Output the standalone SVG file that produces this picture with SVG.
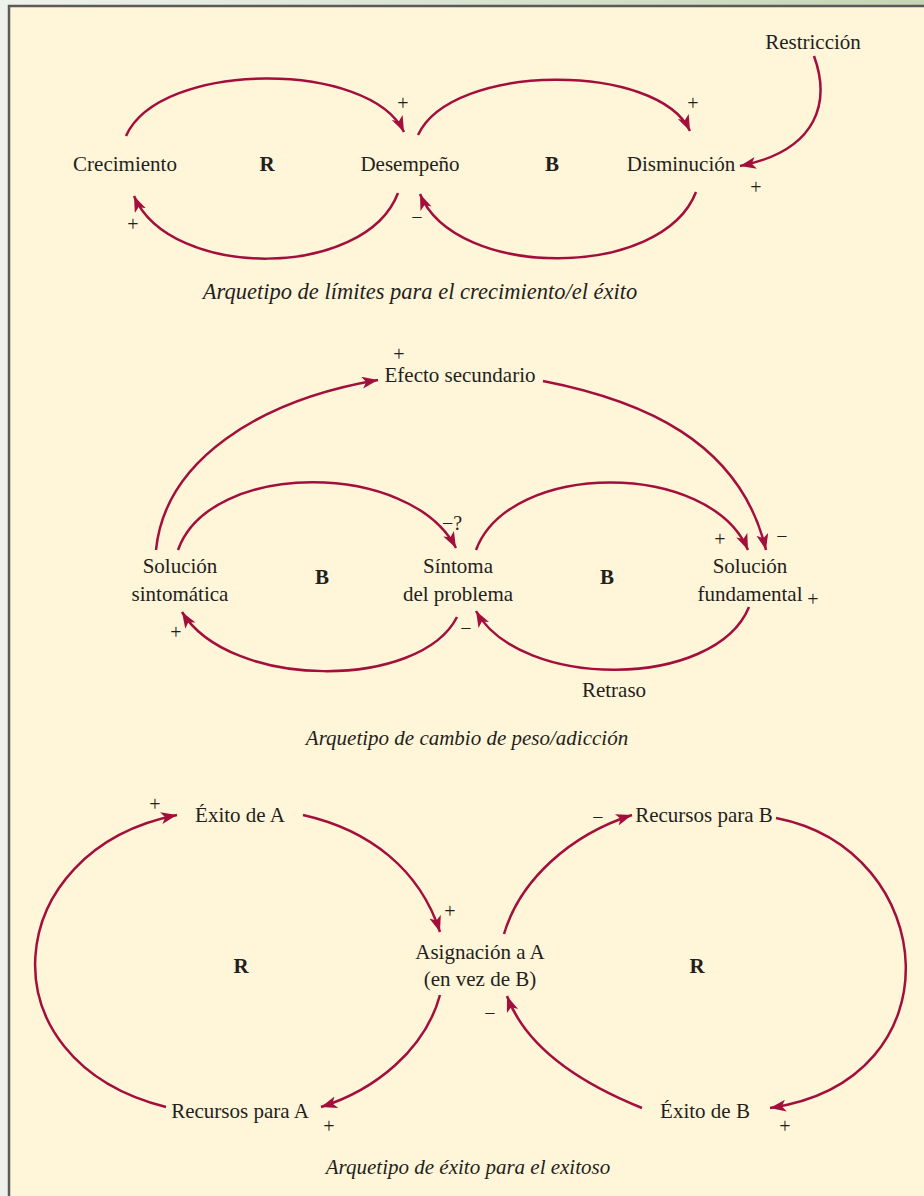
<svg xmlns="http://www.w3.org/2000/svg" width="924" height="1196" viewBox="0 0 924 1196">
<defs>
<linearGradient id="topg" x1="0" y1="0" x2="1" y2="0">
<stop offset="0" stop-color="#eef2ec"/>
<stop offset="1" stop-color="#c5d6b4"/>
</linearGradient>
<marker id="ah" markerUnits="userSpaceOnUse" markerWidth="18" markerHeight="14" refX="16" refY="6" orient="auto">
<path d="M0,0 L16,6 L0,12 L4,6 z" fill="#a30f3c"/>
</marker>
<style>
.t{font-family:"Liberation Serif","Times New Roman",serif;font-size:21px;fill:#231f20;text-anchor:middle}
.b{font-weight:bold}
.c{font-style:italic}
.s{font-family:"Liberation Serif","Times New Roman",serif;font-size:20px;fill:#231f20;text-anchor:middle}
.l{fill:none;stroke:#a30f3c;stroke-width:2.5;marker-end:url(#ah)}
</style>
</defs>
<rect x="0" y="0" width="924" height="1196" fill="#eef2ec"/>
<rect x="0" y="0" width="924" height="6" fill="url(#topg)"/>
<rect x="9" y="6" width="930" height="1200" fill="#fff5d8" stroke="#5a5a58" stroke-width="2.5"/>

<g id="connectors">
<path class="l" d="M126,136 C160,60 370,60 404,132"/>
<path class="l" d="M418,135 C452,62 658,62 690,131"/>
<path class="l" d="M398,193 C365,280 170,280 134,196"/>
<path class="l" d="M696,192 C662,280 455,280 420,194"/>
<path class="l" d="M814,56 C830,100 820,150 740,166"/>

<path class="l" d="M156,550 C165,460 260,400 378,380"/>
<path class="l" d="M543,381 C640,400 740,440 766,550"/>
<path class="l" d="M178,550 C210,460 410,460 456,548"/>
<path class="l" d="M476,550 C510,460 710,460 748,550"/>
<path class="l" d="M457,617 C420,690 230,690 182,612"/>
<path class="l" d="M749,607 C715,690 520,690 476,611"/>

<path class="l" d="M166,1107 C-20,1060 0,850 177,815"/>
<path class="l" d="M303,815 C370,830 420,870 440,932"/>
<path class="l" d="M440,995 C425,1050 375,1090 321,1107"/>
<path class="l" d="M504,934 C520,880 570,835 632,815"/>
<path class="l" d="M776,818 C940,850 960,1080 770,1108"/>
<path class="l" d="M642,1108 C585,1085 527,1050 507,996"/>
</g>

<g id="restriccion"><text class="t" x="813" y="49">Restricción</text></g>
<g id="crecimiento"><text class="t" x="125" y="171">Crecimiento</text></g>
<g id="desempeno"><text class="t" x="410" y="171">Desempeño</text></g>
<g id="disminucion"><text class="t" x="681" y="171">Disminución</text></g>
<g id="loop1"><text class="t b" x="267" y="171">R</text><text class="t b" x="552" y="171">B</text></g>
<g id="signs1">
<text class="s" x="403" y="110">+</text>
<text class="s" x="693" y="110">+</text>
<text class="s" x="756" y="194">+</text>
<text class="s" x="133" y="231">+</text>
<text class="s" x="417" y="224">−</text>
</g>
<g id="caption1"><text class="t c" x="420" y="299" style="font-size:22.5px">Arquetipo de límites para el crecimiento/el éxito</text></g>

<g id="efecto"><text class="t" x="460" y="382">Efecto secundario</text><text class="s" x="399" y="361">+</text></g>
<g id="solsint"><text class="t" x="180" y="573">Solución</text><text class="t" x="180" y="601">sintomática</text></g>
<g id="sintoma"><text class="t" x="458" y="573">Síntoma</text><text class="t" x="458" y="601">del problema</text></g>
<g id="solfund"><text class="t" x="750" y="573">Solución</text><text class="t" x="750" y="601">fundamental</text></g>
<g id="loop2"><text class="t b" x="322" y="584">B</text><text class="t b" x="607" y="584">B</text></g>
<g id="retraso"><text class="t" x="614" y="697">Retraso</text></g>
<g id="signs2">
<text class="s" x="452" y="530">−?</text>
<text class="s" x="720" y="546">+</text>
<text class="s" x="782" y="543">−</text>
<text class="s" x="813" y="606">+</text>
<text class="s" x="466" y="635">−</text>
<text class="s" x="176" y="639">+</text>
</g>
<g id="caption2"><text class="t c" x="467" y="745">Arquetipo de cambio de peso/adicción</text></g>

<g id="exitoA"><text class="t" x="240" y="822">Éxito de A</text></g>
<g id="recursosB"><text class="t" x="704" y="822">Recursos para B</text></g>
<g id="asignacion"><text class="t" x="480" y="959">Asignación a A</text><text class="t" x="480" y="986">(en vez de B)</text></g>
<g id="recursosA"><text class="t" x="240" y="1118">Recursos para A</text></g>
<g id="exitoB"><text class="t" x="705" y="1118">Éxito de B</text></g>
<g id="loop3"><text class="t b" x="241" y="973">R</text><text class="t b" x="697" y="973">R</text></g>
<g id="signs3">
<text class="s" x="155" y="811">+</text>
<text class="s" x="598" y="824">−</text>
<text class="s" x="450" y="918">+</text>
<text class="s" x="490" y="1020">−</text>
<text class="s" x="329" y="1133">+</text>
<text class="s" x="785" y="1133">+</text>
</g>
<g id="caption3"><text class="t c" x="468" y="1174">Arquetipo de éxito para el exitoso</text></g>
</svg>
